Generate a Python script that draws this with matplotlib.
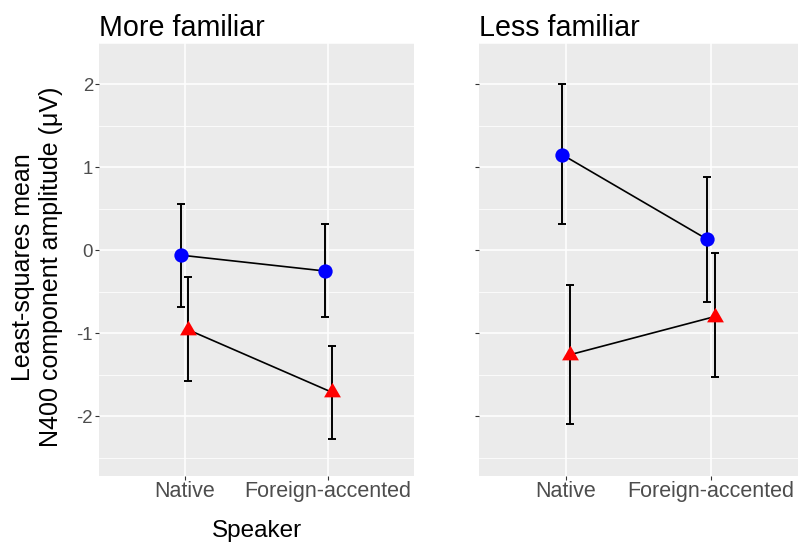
import matplotlib
matplotlib.use("Agg")
import matplotlib.pyplot as plt
import numpy as np

plt.rcParams['font.family'] = ['Liberation Sans', 'DejaVu Sans']
plt.rcParams['axes.unicode_minus'] = False

speakers = ["Native", "Foreign-accented"]
panels = ["More familiar", "Less familiar"]

# circles (blue) : mean, lower, upper
more_blue_mean = [-0.06, -0.25]
more_blue_lo = [-0.68, -0.80]
more_blue_hi = [0.56, 0.31]
# triangles (red)
more_red_mean = [-0.96, -1.71]
more_red_lo = [-1.58, -2.27]
more_red_hi = [-0.32, -1.15]

less_blue_mean = [1.15, 0.13]
less_blue_lo = [0.31, -0.62]
less_blue_hi = [2.00, 0.88]
less_red_mean = [-1.26, -0.80]
less_red_lo = [-2.09, -1.53]
less_red_hi = [-0.42, -0.03]

yticks = [-2, -1, 0, 1, 2]

tri = [(0, 1), (-0.866, -0.5), (0.866, -0.5)]

fig = plt.figure(figsize=(7.99, 5.42), dpi=100)
ax1 = fig.add_axes([99/799, 1-476/542, 315/799, 433.3/542])
ax2 = fig.add_axes([479/799, 1-476/542, 319/799, 433.3/542])

data = [
    (ax1, panels[0], (more_blue_mean, more_blue_lo, more_blue_hi), (more_red_mean, more_red_lo, more_red_hi)),
    (ax2, panels[1], (less_blue_mean, less_blue_lo, less_blue_hi), (less_red_mean, less_red_lo, less_red_hi)),
]

x = np.arange(1, len(speakers) + 1)
dodge = 0.025

for ax, title, blue, red in data:
    ax.set_facecolor('#EBEBEB')
    for s in ax.spines.values():
        s.set_visible(False)
    ax.set_xlim(0.4, 2.6)
    ax.set_ylim(-2.72, 2.49)
    ax.set_yticks(yticks)
    ax.set_yticks([-2.5, -1.5, -0.5, 0.5, 1.5, 2.5], minor=True)
    ax.set_xticks(x)
    ax.set_xticklabels(speakers)
    ax.grid(which='major', color='white', lw=1.1)
    ax.grid(which='minor', axis='y', color='white', lw=0.55)
    ax.set_axisbelow(True)
    ax.tick_params(axis='both', which='major', length=2.9, width=0.8, color='#333333',
                   labelcolor='#4D4D4D')
    ax.tick_params(axis='x', labelsize=15.5, pad=0.5)
    ax.tick_params(axis='y', labelsize=13.4, pad=1.5)
    ax.tick_params(which='minor', length=0)
    ax.set_title(title, loc='left', fontsize=20.6, pad=4.8, color='black')

    for (m, lo, hi), off, col, mk, ms in [(blue, -dodge, 'blue', 'o', 10.3),
                                         (red, dodge, 'red', tri, 14)]:
        m = np.array(m); lo = np.array(lo); hi = np.array(hi)
        xs = x + off
        ax.plot(xs, m, color='black', lw=1.2, zorder=2)
        ax.errorbar(xs, m, yerr=[m - lo, hi - m], fmt='none', ecolor='black',
                    elinewidth=1.4, capsize=2.9, capthick=1.4, zorder=3)
        ax.plot(xs, m, linestyle='none', marker=mk, markersize=ms, color=col,
                markeredgewidth=0, zorder=4)

ax2.set_yticklabels([])

ax1.set_xlabel("Speaker", fontsize=17.5, color='black')
ax1.xaxis.label.set_va('baseline')
ax1.xaxis.set_label_coords(0.5, -0.140)

ax1.set_ylabel("Least-squares mean\nN400 component amplitude (\u03bcV)", fontsize=18,
               color='black', multialignment='center')
ax1.yaxis.label.set_va('center')
ax1.yaxis.set_label_coords(-0.198, 0.482)

fig.savefig("out.png", dpi=100)
